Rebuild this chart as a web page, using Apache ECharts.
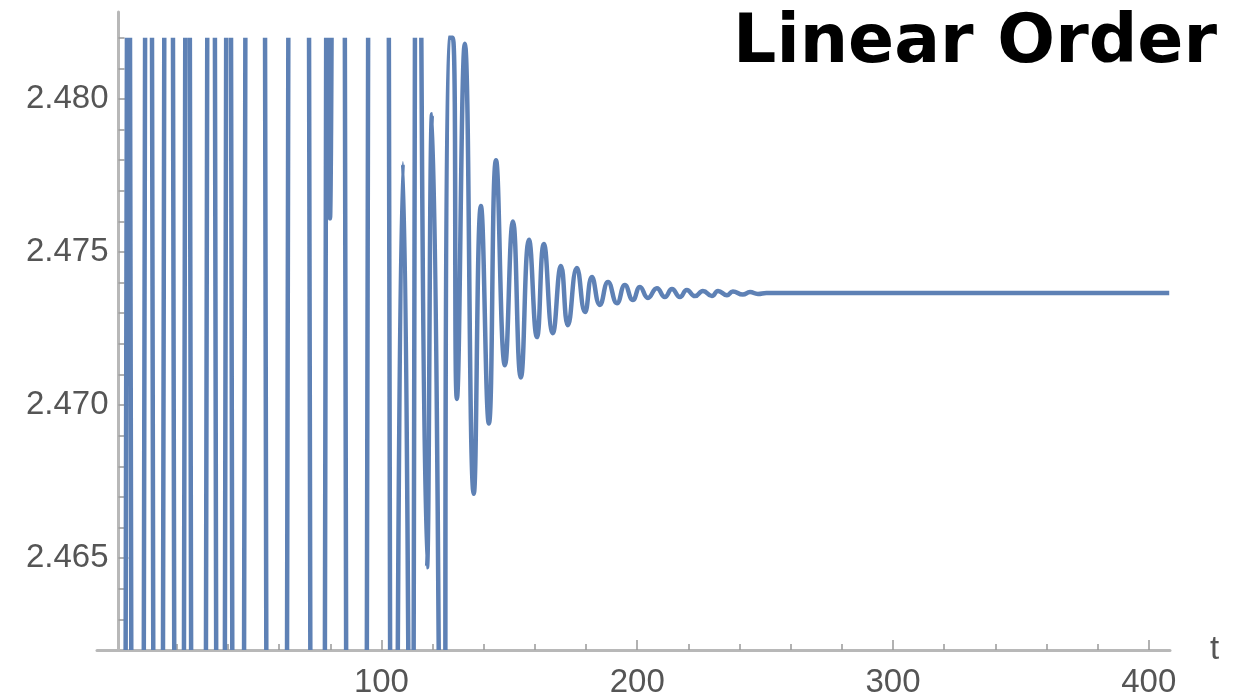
<!DOCTYPE html>
<html>
<head>
<meta charset="utf-8">
<title>Linear Order</title>
<script src="https://cdn.jsdelivr.net/npm/echarts@6/dist/echarts.min.js"></script>
<style>
  html, body { margin: 0; padding: 0; background: #fff; }
  #chart { width: 1243px; height: 700px; }
</style>
</head>
<body>
<div id="chart"></div>
<script>
// tick positions (major ones get labels)
const xMajorTicks = [100, 200, 300, 400]
const xMinorTicks = [20, 40, 60, 80, 120, 140, 160, 180, 220, 240, 260, 280, 320, 340, 360, 380]
const yMajorTicks = [2.465, 2.470, 2.475, 2.480]
const yMinorTicks = [2.463, 2.464, 2.466, 2.467, 2.468, 2.469, 2.471, 2.472, 2.473, 2.474,
  2.476, 2.477, 2.478, 2.479, 2.481, 2.482]

// early phase: the trace leaves the plot range, only the crossings are visible
// [null, null] breaks the line where it is out of range
const spikeTrain = [
  [0.0, 2.462], [0.5, 2.482], [null, null],
  [1.7, 2.482], [2.2, 2.462], [null, null],
  [7.1, 2.462], [7.6, 2.482], [null, null],
  [10.3, 2.482], [10.8, 2.462], [null, null],
  [14.6, 2.462], [15.1, 2.482], [null, null],
  [18.5, 2.482], [19.0, 2.462], [null, null],
  [22.8, 2.462], [23.3, 2.482], [null, null],
  [25.1, 2.482], [25.6, 2.462], [null, null],
  [31.4, 2.462], [31.9, 2.482], [null, null],
  [34.9, 2.482], [35.4, 2.462], [null, null],
  [38.8, 2.462], [39.3, 2.482], [null, null],
  [41.2, 2.482], [41.7, 2.462], [null, null],
  [46.3, 2.462], [46.8, 2.482], [null, null],
  [54.5, 2.482], [55.0, 2.462], [null, null],
  [63.1, 2.462], [63.6, 2.482], [null, null],
  [71.7, 2.482], [72.2, 2.462], [null, null],
  [77.9, 2.462], [78.4, 2.482], [null, null],
  [79.3, 2.482], [79.9, 2.4761], [80.5, 2.482], [null, null],
  [85.7, 2.482], [86.2, 2.462], [null, null],
  [94.3, 2.462], [94.8, 2.482], [null, null],
  [102.9, 2.482], [103.4, 2.462], [null, null]
]

// large oscillations coming back into range
const transient = [
  [106.4, 2.462], [108.4, 2.4779], [110.5, 2.462], [null, null],
  [112.6, 2.462], [113.1, 2.482], [null, null],
  [115.6, 2.482], [117.8, 2.4647], [119.8, 2.4795], [122.4, 2.462], [null, null],
  [125.0, 2.462], [126.3, 2.482], [127.9, 2.482], [129.5, 2.4702], [132.6, 2.4818],
  [136.1, 2.4671], [138.9, 2.4765], [142.0, 2.4694], [144.8, 2.4780], [148.3, 2.4713],
  [151.4, 2.4760], [154.5, 2.4709], [157.7, 2.4754]
]

// damped ringing
const ringDown = [
  [160.8, 2.47222], [163.5, 2.47526], [167.0, 2.47235], [170.2, 2.47454], [172.9, 2.47261],
  [176.4, 2.47448], [179.6, 2.47304], [182.3, 2.47418], [185.4, 2.47327], [188.6, 2.47402],
  [192.1, 2.47333], [195.2, 2.47392], [198.3, 2.47343], [201.1, 2.47386], [204.2, 2.47350],
  [207.7, 2.47382], [210.8, 2.47353], [213.6, 2.47379], [216.7, 2.47353], [219.4, 2.47376],
  [222.6, 2.47356], [225.7, 2.47373], [229.2, 2.47356], [231.6, 2.47373], [235.1, 2.47359],
  [237.4, 2.47371], [241.3, 2.47361], [244.1, 2.47369], [247.2, 2.47363]
]

const steadyState = [[250.5, 2.47366], [408.0, 2.47366]]

const axisGray = '#b8b8b8'
const labelStyle = { fontFamily: 'Liberation Sans', fontSize: 33, color: '#555555' }

const chart = echarts.init(document.getElementById('chart'))
chart.setOption({
  animation: false,
  backgroundColor: '#ffffff',
  title: {
    text: 'Linear Order',
    right: 21,
    top: 5,
    textStyle: { fontFamily: 'DejaVu Sans', fontWeight: 'bold', fontSize: 68, color: '#000000' }
  },
  grid: { left: 97, right: 73, top: 12, bottom: 50 },
  xAxis: [{
    type: 'value',
    min: -11.2,
    max: 408.3,
    position: 'bottom',
    name: 't',
    nameLocation: 'end',
    nameGap: 40,
    nameTextStyle: labelStyle,
    axisLine: { onZero: false, lineStyle: { color: axisGray, width: 3 } },
    axisTick: { inside: true, length: 10, customValues: xMajorTicks, lineStyle: { color: '#999999', width: 1.5 } },
    axisLabel: Object.assign({ customValues: xMajorTicks, margin: 16 }, labelStyle),
    splitLine: { show: false }
  }, {
    type: 'value',
    min: -11.2,
    max: 408.3,
    position: 'bottom',
    axisLine: { show: false, onZero: false },
    axisTick: { inside: true, length: 6, customValues: xMinorTicks, lineStyle: { color: '#999999', width: 1.5 } },
    axisLabel: { show: false },
    splitLine: { show: false }
  }],
  yAxis: [{
    type: 'value',
    min: 2.462,
    max: 2.48284,
    position: 'left',
    offset: -21.5,
    axisLine: { show: true, onZero: false, lineStyle: { color: axisGray, width: 3 } },
    axisTick: { show: true, inside: true, length: 10, customValues: yMajorTicks, lineStyle: { color: '#999999', width: 1.5 } },
    axisLabel: Object.assign({ customValues: yMajorTicks, margin: 10, formatter: v => v.toFixed(3) }, labelStyle),
    splitLine: { show: false }
  }, {
    type: 'value',
    min: 2.462,
    max: 2.48284,
    position: 'left',
    offset: -21.5,
    axisLine: { show: false, onZero: false },
    axisTick: { show: true, inside: true, length: 6, customValues: yMinorTicks, lineStyle: { color: '#999999', width: 1.5 } },
    axisLabel: { show: false },
    splitLine: { show: false }
  }],
  series: [{
    type: 'line',
    xAxisIndex: 0,
    yAxisIndex: 0,
    data: spikeTrain.concat(transient, ringDown, steadyState),
    showSymbol: false,
    symbol: 'none',
    smooth: 0.5,
    clip: true,
    lineStyle: { color: '#5e81b5', width: 4.5 }
  }]
})
</script>
</body>
</html>
